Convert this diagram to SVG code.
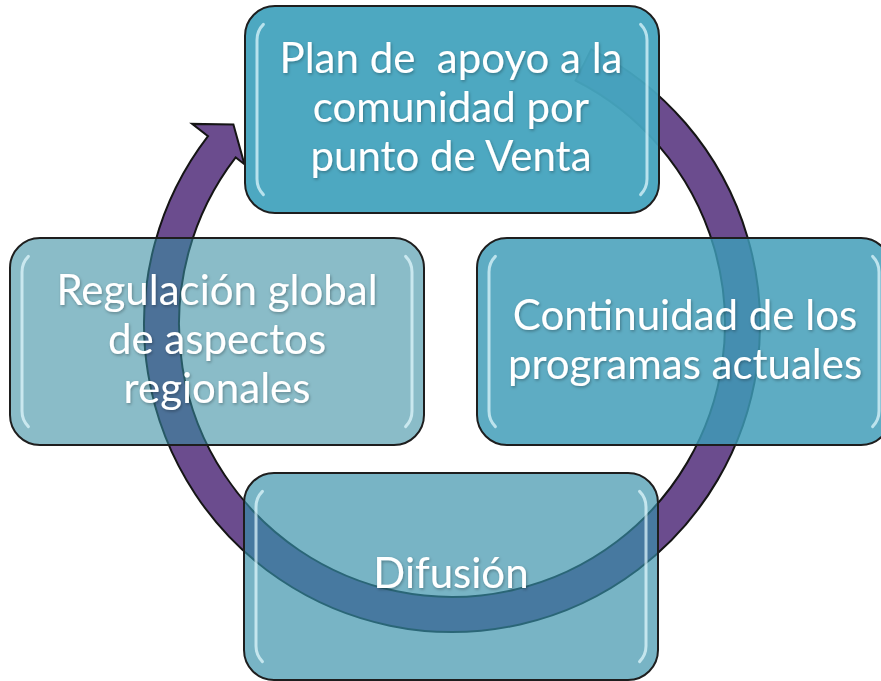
<svg xmlns="http://www.w3.org/2000/svg" width="881" height="681" viewBox="0 0 881 681">
<style>
.box{stroke:#1e1e1e;stroke-width:2}
.hl{fill:none;stroke:#e6fbff;stroke-width:3;stroke-linecap:round;opacity:.7}
.lbl{font-family:Lato,"Open Sans",sans-serif;font-size:42px;fill:#ffffff;text-anchor:middle}
.arrow{fill:#6b4c8e;stroke:#151515;stroke-width:2;stroke-linejoin:miter}
</style>
<defs>
<filter id="ts" x="-10%" y="-30%" width="120%" height="160%">
<feDropShadow dx="1" dy="1.5" stdDeviation="1.5" flood-color="#000" flood-opacity="0.3"/>
</filter>
</defs>
<rect width="881" height="681" fill="#ffffff"/>
<g id="connectors">
<path class="arrow" d="M591.3,49.3 A308,308 0 1 1 208.0,136.1 L192.1,123.9 L233.4,124.4 L244.4,164.2 L235.7,157.4 A273,273 0 1 0 575.5,80.5 Z"/>
</g>
<g id="node-top">
<rect class="box" x="245" y="6" width="414" height="207" rx="30" fill="#46a4be" fill-opacity="0.96"/>
<path class="hl" d="M263.4,24.4 A22,22 0 0 0 257,40 L257,179 A22,22 0 0 0 263.4,194.6"/>
<path class="hl" d="M640.6,24.4 A22,22 0 0 1 647,40 L647,179 A22,22 0 0 1 640.6,194.6"/>
<text class="lbl" filter="url(#ts)" xml:space="preserve"><tspan x="451" y="73">Plan de  apoyo a la</tspan><tspan x="451" y="122">comunidad por</tspan><tspan x="451" y="171">punto de Venta</tspan></text>
</g>
<g id="node-right">
<rect class="box" x="477" y="238" width="414" height="207" rx="30" fill="#3d9bb7" fill-opacity="0.83"/>
<path class="hl" d="M495.4,256.4 A22,22 0 0 0 489,272 L489,411 A22,22 0 0 0 495.4,426.6"/>
<path class="hl" d="M872.6,256.4 A22,22 0 0 1 879,272 L879,411 A22,22 0 0 1 872.6,426.6"/>
<text class="lbl" filter="url(#ts)"><tspan x="685" y="330">Continuidad de los</tspan><tspan x="685" y="379">programas actuales</tspan></text>
</g>
<g id="node-bottom">
<rect class="box" x="244" y="473" width="414" height="207" rx="30" fill="#368fa9" fill-opacity="0.67"/>
<path class="hl" d="M262.4,491.4 A22,22 0 0 0 256,507 L256,646 A22,22 0 0 0 262.4,661.6"/>
<path class="hl" d="M639.6,491.4 A22,22 0 0 1 646,507 L646,646 A22,22 0 0 1 639.6,661.6"/>
<text class="lbl" filter="url(#ts)" x="451" y="588">Difusión</text>
</g>
<g id="node-left">
<rect class="box" x="10" y="238" width="414" height="207" rx="30" fill="#368ca1" fill-opacity="0.58"/>
<path class="hl" d="M28.4,256.4 A22,22 0 0 0 22,272 L22,411 A22,22 0 0 0 28.4,426.6"/>
<path class="hl" d="M405.6,256.4 A22,22 0 0 1 412,272 L412,411 A22,22 0 0 1 405.6,426.6"/>
<text class="lbl" filter="url(#ts)"><tspan x="217" y="305">Regulación global</tspan><tspan x="217" y="354">de aspectos</tspan><tspan x="217" y="403">regionales</tspan></text>
</g>
</svg>
